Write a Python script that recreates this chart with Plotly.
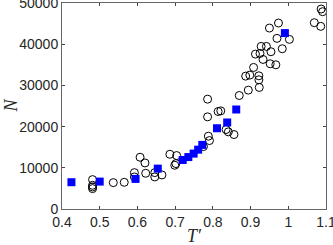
import plotly.graph_objects as go

# measured data (open circles)
circ_t = [0.481, 0.481, 0.481, 0.481, 0.536, 0.565, 0.592, 0.592, 0.607, 0.620,
          0.622, 0.646, 0.646, 0.665, 0.686, 0.704, 0.699, 0.702, 0.786, 0.786,
          0.788, 0.791, 0.775, 0.814, 0.821, 0.835, 0.841, 0.856, 0.870, 0.894,
          0.887, 0.898, 0.908, 0.913, 0.922, 0.922, 0.923, 0.925, 0.928, 0.933,
          0.942, 0.954, 0.952, 0.950, 0.967, 0.970, 0.974, 0.984, 1.003, 1.069,
          1.086, 1.087, 1.091]
circ_n = [7130, 5750, 5350, 4950, 6400, 6480, 8830, 7780, 12560, 11180,
          8670, 8830, 7780, 8270, 13290, 12970, 10620, 11020, 26660, 22370,
          17670, 16610, 15150, 23660, 23820, 19290, 18720, 18070, 27550, 28850,
          32250, 32500, 34360, 37600, 32330, 31360, 29500, 37760, 39460, 36300,
          39460, 38170, 35250, 43920, 35000, 41410, 45140, 38900, 41170, 45220,
          44330, 48540, 47890]

# model values (filled squares)
sq_t = [0.425, 0.500, 0.595, 0.654, 0.720, 0.735, 0.749, 0.761, 0.772, 0.811,
        0.838, 0.862, 0.991]
sq_n = [6500, 6650, 7300, 9800, 11900, 12600, 13450, 14400, 15560, 19600,
        21000, 24150, 42700]

fig = go.Figure()

fig.add_trace(go.Scatter(
    x=circ_t, y=circ_n, mode='markers',
    marker=dict(symbol='circle-open', size=8, color='black', line=dict(width=1)),
    showlegend=False, cliponaxis=False
))

fig.add_trace(go.Scatter(
    x=sq_t, y=sq_n, mode='markers',
    marker=dict(symbol='square', size=8, color='#0000ff'),
    showlegend=False, cliponaxis=False
))

axis_style = dict(
    showline=True, linecolor='#666666', linewidth=1, mirror='ticks',
    ticks='inside', ticklen=3, tickcolor='#444444',
    showgrid=False, zeroline=False, automargin=False,
    ticklabeloverflow='allow',
    tickfont=dict(family='Liberation Sans', size=14, color='#262626'),
)

fig.update_xaxes(range=[0.4, 1.1], dtick=0.1, tickformat='~g', **axis_style)
fig.update_yaxes(range=[0, 50000], dtick=10000, tickformat='d', **axis_style)

# axis titles
fig.add_annotation(text="<i>T′</i>", xref='paper', yref='paper', x=0.5, y=-0.19,
                   xanchor='center', yanchor='bottom', showarrow=False,
                   font=dict(family='Liberation Serif', size=18, color='#262626'))
fig.add_annotation(text="<i>N</i>", xref='paper', yref='paper', x=-0.195, y=0.5,
                   xanchor='center', yanchor='middle', textangle=-90, showarrow=False,
                   font=dict(family='Liberation Serif', size=18, color='#262626'))

fig.update_layout(
    width=333, height=245,
    margin=dict(l=62, r=7, t=3, b=36),
    plot_bgcolor='white', paper_bgcolor='white',
)

# page body has a default 8px margin; drop it so the figure fills the window
fig.write_html("out.html", config={'displayModeBar': False},
               post_script="document.body.style.margin='0';")
